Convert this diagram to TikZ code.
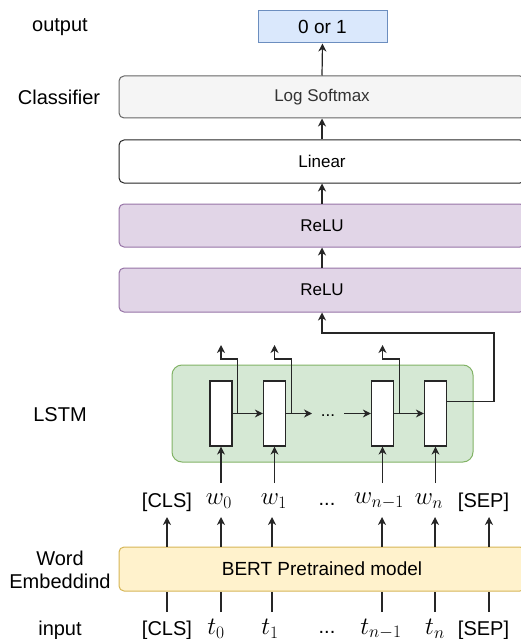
\documentclass[tikz,border=0pt]{standalone}
\usepackage[no-math]{fontspec}
\usepackage{fix-cm}
\setmainfont{Liberation Sans}
\usetikzlibrary{arrows.meta,calc}
\definecolor{blueF}{HTML}{DAE8FC}\definecolor{blueD}{HTML}{6C8EBF}
\definecolor{grayF}{HTML}{F5F5F5}\definecolor{grayD}{HTML}{666666}\definecolor{grayT}{HTML}{333333}
\definecolor{purpF}{HTML}{E1D5E7}\definecolor{purpD}{HTML}{9673A6}
\definecolor{greenF}{HTML}{D5E8D4}\definecolor{greenD}{HTML}{82B366}
\definecolor{yelF}{HTML}{FFF2CC}\definecolor{yelD}{HTML}{D6B656}
\begin{document}
\begin{tikzpicture}[x=1pt,y=-1pt,
  arr/.style={-{Stealth[length=8pt,width=8pt,inset=2.5pt]}, line width=1.2pt, draw=black!85},
  ln/.style={line width=1.2pt, draw=black!85},
  layer/.style={rounded corners=5pt, line width=1pt, minimum width=406pt, inner sep=0pt, font=\fontsize{17}{20}\selectfont},
  side/.style={font=\fontsize{20}{24}\selectfont, align=center, inner sep=0pt},
  tok/.style={font=\fontsize{20}{24}\selectfont, inner sep=0pt},
  mtok/.style={font=\fontsize{25}{28}\selectfont, inner sep=0pt},
  cell/.style={draw=black!85, fill=white, line width=1.2pt, minimum width=22pt, minimum height=65pt, inner sep=0pt}]
\clip (0,0) rectangle (521,639);
% side labels
\node[side] (lout) at (60,27) {output};
\node[side] (lcls) at (59,97) {Classifier};
\node[side] (llstm) at (60,415) {LSTM};
\node[side] (lwe) at (60,570) {Word\\[-1pt]Embeddind};
\node[side] (lin) at (60,630) {input};
% classifier stack
\node[draw=blueD, fill=blueF, line width=1pt, minimum width=129pt, minimum height=32pt, inner sep=0pt, font=\fontsize{19}{22}\selectfont] (out) at (322.5,27) {0 or 1};
\node[layer, draw=grayD, fill=grayF, text=grayT, minimum height=42pt] (logs) at (322,97) {Log Softmax};
\node[layer, draw=black!85, fill=white, minimum height=43pt] (lin) at (322,161.5) {Linear};
\node[layer, draw=purpD, fill=purpF, minimum height=43pt] (relu1) at (322,225.5) {ReLU};
\node[layer, draw=purpD, fill=purpF, minimum height=44pt] (relu2) at (322,290) {ReLU};
\draw[arr] (logs.north) -- (out.south);
\draw[arr] (lin.north) -- (logs.south);
\draw[arr] (relu1.north) -- (lin.south);
\draw[arr] (relu2.north) -- (relu1.south);
% LSTM
\node[draw=greenD, fill=greenF, line width=1pt, rounded corners=10pt, minimum width=301pt, minimum height=97pt, inner sep=0pt] (lstm) at (322.5,413.5) {};
\node[cell] (c1) at (221,413.5) {};
\node[cell] (c2) at (274.5,413.5) {};
\node[cell] (c3) at (382.5,413.5) {};
\node[cell] (c4) at (435.5,413.5) {};
\coordinate (d1) at (312,413.5);
\coordinate (d2) at (344,413.5);
\node[font=\fontsize{17}{18}\selectfont, inner sep=0pt] (dots) at (328,416) {...};
\draw[arr] (c1.east) -- (c2.west);
\draw[arr] (c2.east) -- (d1);
\draw[arr] (d2) -- (c3.west);
\draw[arr] (c3.east) -- (c4.west);
\foreach \c in {c1,c2,c3}{
  \draw[arr] ([xshift=5pt]\c.east) -- ([xshift=5pt]\c.east |- 0,359) -- (\c.center |- 0,359) -- (\c.center |- 0,345);
}
\draw[arr] ($(c4.north east)!0.32!(c4.south east)$) -| (494,333) -| (relu2.south);
% BERT
\node[layer, draw=yelD, fill=yelF, minimum height=44pt, font=\fontsize{19}{22}\selectfont] (bert) at (322,569) {BERT Pretrained model};
% word labels
\node[tok] (wcls) at (167,502) {[CLS]};
\node[mtok] (w0) at (219,501) {$w_0$};
\node[mtok] (w1) at (274,501) {$w_1$};
\node[tok] (wd) at (327,504) {...};
\node[mtok] (wn1) at (379,501) {$w_{n-1}$};
\node[mtok] (wn) at (429,501) {$w_n$};
\node[tok] (wsep) at (483.5,502) {[SEP]};
% input labels
\node[tok] (tcls) at (167,630) {[CLS]};
\node[mtok] (t0) at (216,629) {$t_0$};
\node[mtok] (t1) at (270,629) {$t_1$};
\node[tok] (td) at (327,632) {...};
\node[mtok] (tn1) at (381,629) {$t_{n-1}$};
\node[mtok] (tn) at (435,629) {$t_n$};
\node[tok] (tsep) at (483.5,630) {[SEP]};
% arrows BERT -> word labels, and input lines
\foreach \x/\w/\t in {167/wcls/tcls, 221/w0/t0, 272/w1/t1, 382/wn1/tn1, 435/wn/tn, 489/wsep/tsep}{
  \draw[arr] (bert.north -| \x,0) -- (\x,517);
  \draw[ln] (\x,612) -- (bert.south -| \x,0);
}
% arrows word labels -> cells
\foreach \c in {c1,c2,c3,c4}{
  \draw[arr] (\c.center |- 0,483) -- (\c.south);
}
\end{tikzpicture}
\end{document}
